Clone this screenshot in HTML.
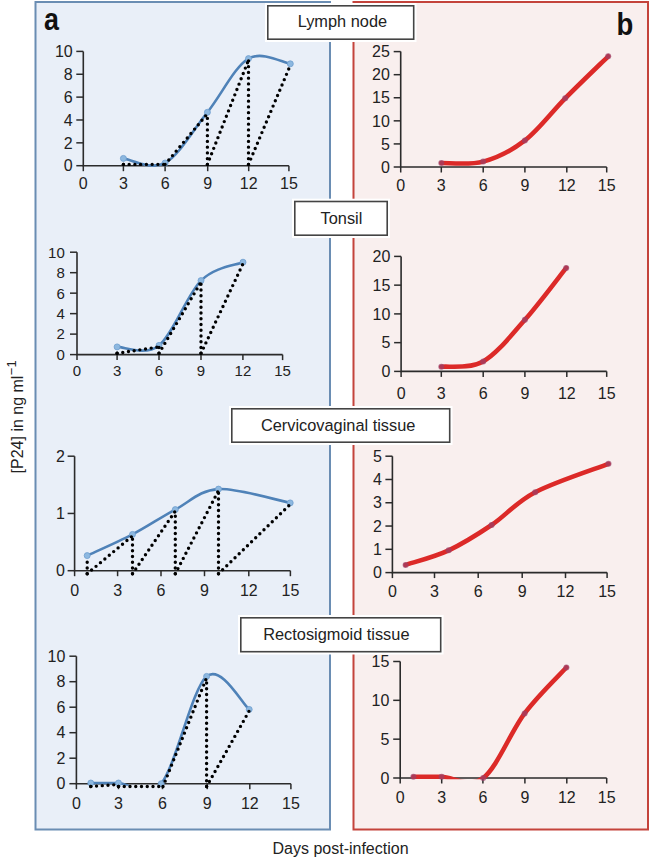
<!DOCTYPE html>
<html><head><meta charset="utf-8"><style>
html,body{margin:0;padding:0;background:#fff;width:650px;height:858px;overflow:hidden}
svg{display:block}
</style></head><body>
<svg width="650" height="858" viewBox="0 0 650 858" font-family='"Liberation Sans", sans-serif' font-size="16" fill="#222">
<defs><clipPath id="clip0"><rect x="83.3" y="31.4" width="225.59999999999997" height="136.29999999999998"/></clipPath><clipPath id="clip1"><rect x="77" y="232.2" width="225.60000000000002" height="124.40000000000003"/></clipPath><clipPath id="clip2"><rect x="74.6" y="436.2" width="235.79999999999998" height="136.50000000000006"/></clipPath><clipPath id="clip3"><rect x="76.4" y="636.2" width="234.49999999999997" height="149.5"/></clipPath><clipPath id="clip4"><rect x="400.7" y="31.6" width="226.00000000000006" height="136.6"/></clipPath><clipPath id="clip5"><rect x="401.1" y="236.39999999999998" width="225.60000000000002" height="136.2"/></clipPath><clipPath id="clip6"><rect x="392.4" y="436.2" width="234.70000000000005" height="137.60000000000002"/></clipPath><clipPath id="clip7"><rect x="400.2" y="641.5" width="226.50000000000006" height="137.7"/></clipPath></defs>
<rect x="0" y="0" width="650" height="858" fill="#fff"/>
<rect x="35.5" y="2" width="294.5" height="827.5" fill="#e9eff8" stroke="#6a8db3" stroke-width="2"/>
<rect x="353.5" y="2" width="294.5" height="827.5" fill="#f9efee" stroke="#c4433b" stroke-width="2"/>
<text x="44" y="30.3" font-size="32" font-weight="bold" fill="#111" transform="translate(44,0) scale(0.84,1) translate(-44,0)">a</text>
<text x="616.5" y="34.6" font-size="32" font-weight="bold" fill="#111" transform="translate(616.5,0) scale(0.86,1) translate(-616.5,0)">b</text>
<g><path d="M83.30,51.40 V165.70 H288.90" fill="none" stroke="#2b2b2b" stroke-width="1.6"/><path d="M76.30,165.70 H83.30" stroke="#2b2b2b" stroke-width="1.5"/><text x="72.70" y="171.40" text-anchor="end" font-size="16">0</text><path d="M76.30,142.84 H83.30" stroke="#2b2b2b" stroke-width="1.5"/><text x="72.70" y="148.54" text-anchor="end" font-size="16">2</text><path d="M76.30,119.98 H83.30" stroke="#2b2b2b" stroke-width="1.5"/><text x="72.70" y="125.68" text-anchor="end" font-size="16">4</text><path d="M76.30,97.12 H83.30" stroke="#2b2b2b" stroke-width="1.5"/><text x="72.70" y="102.82" text-anchor="end" font-size="16">6</text><path d="M76.30,74.26 H83.30" stroke="#2b2b2b" stroke-width="1.5"/><text x="72.70" y="79.96" text-anchor="end" font-size="16">8</text><path d="M76.30,51.40 H83.30" stroke="#2b2b2b" stroke-width="1.5"/><text x="72.70" y="57.10" text-anchor="end" font-size="16">10</text><path d="M83.30,165.70 V171.20" stroke="#2b2b2b" stroke-width="1.5"/><text x="83.30" y="188.70" text-anchor="middle" font-size="16">0</text><path d="M123.40,165.70 V171.20" stroke="#2b2b2b" stroke-width="1.5"/><text x="123.40" y="188.70" text-anchor="middle" font-size="16">3</text><path d="M165.10,165.70 V171.20" stroke="#2b2b2b" stroke-width="1.5"/><text x="165.10" y="188.70" text-anchor="middle" font-size="16">6</text><path d="M207.70,165.70 V171.20" stroke="#2b2b2b" stroke-width="1.5"/><text x="207.70" y="188.70" text-anchor="middle" font-size="16">9</text><path d="M248.70,165.70 V171.20" stroke="#2b2b2b" stroke-width="1.5"/><text x="248.70" y="188.70" text-anchor="middle" font-size="16">12</text><path d="M288.90,165.70 V171.20" stroke="#2b2b2b" stroke-width="1.5"/><text x="288.90" y="188.70" text-anchor="middle" font-size="16">15</text><path d="M123.40,158.40 C130.35,159.17 151.10,170.68 165.10,163.00 C179.10,155.32 193.50,129.70 207.40,112.30 C221.30,94.90 234.68,66.68 248.50,58.60 C262.32,50.52 283.33,62.93 290.30,63.80" fill="none" stroke="#4f82b8" stroke-width="2.6" stroke-linejoin="round" clip-path="url(#clip0)"/><circle cx="123.40" cy="158.40" r="3" fill="#8db8e0" stroke="#6d9dce" stroke-width="0.8"/><circle cx="165.10" cy="163.00" r="3" fill="#8db8e0" stroke="#6d9dce" stroke-width="0.8"/><circle cx="207.40" cy="112.30" r="3" fill="#8db8e0" stroke="#6d9dce" stroke-width="0.8"/><circle cx="248.50" cy="58.60" r="3" fill="#8db8e0" stroke="#6d9dce" stroke-width="0.8"/><circle cx="290.30" cy="63.80" r="3" fill="#8db8e0" stroke="#6d9dce" stroke-width="0.8"/><g fill="none" stroke="#000" stroke-width="3.4" stroke-linecap="round" stroke-dasharray="0 5.75"><path d="M123.40,164.40 L123.40,159.90"/><path d="M123.40,164.40 L165.10,164.40"/><path d="M165.10,164.40 L207.40,113.80"/><path d="M207.40,164.40 L207.40,113.80"/><path d="M207.40,164.40 L248.50,60.10"/><path d="M248.50,164.40 L248.50,60.10"/><path d="M248.50,164.40 L290.30,65.30"/></g></g><g><path d="M77.00,252.20 V354.60 H282.60" fill="none" stroke="#2b2b2b" stroke-width="1.6"/><path d="M70.00,354.60 H77.00" stroke="#2b2b2b" stroke-width="1.5"/><text x="64.80" y="359.94" text-anchor="end" font-size="15">0</text><path d="M70.00,334.12 H77.00" stroke="#2b2b2b" stroke-width="1.5"/><text x="64.80" y="339.46" text-anchor="end" font-size="15">2</text><path d="M70.00,313.64 H77.00" stroke="#2b2b2b" stroke-width="1.5"/><text x="64.80" y="318.98" text-anchor="end" font-size="15">4</text><path d="M70.00,293.16 H77.00" stroke="#2b2b2b" stroke-width="1.5"/><text x="64.80" y="298.50" text-anchor="end" font-size="15">6</text><path d="M70.00,272.68 H77.00" stroke="#2b2b2b" stroke-width="1.5"/><text x="64.80" y="278.02" text-anchor="end" font-size="15">8</text><path d="M70.00,252.20 H77.00" stroke="#2b2b2b" stroke-width="1.5"/><text x="64.80" y="257.54" text-anchor="end" font-size="15">10</text><path d="M77.00,354.60 V360.10" stroke="#2b2b2b" stroke-width="1.5"/><text x="77.00" y="375.94" text-anchor="middle" font-size="15">0</text><path d="M117.10,354.60 V360.10" stroke="#2b2b2b" stroke-width="1.5"/><text x="117.10" y="375.94" text-anchor="middle" font-size="15">3</text><path d="M159.00,354.60 V360.10" stroke="#2b2b2b" stroke-width="1.5"/><text x="159.00" y="375.94" text-anchor="middle" font-size="15">6</text><path d="M201.00,354.60 V360.10" stroke="#2b2b2b" stroke-width="1.5"/><text x="201.00" y="375.94" text-anchor="middle" font-size="15">9</text><path d="M242.90,354.60 V360.10" stroke="#2b2b2b" stroke-width="1.5"/><text x="242.90" y="375.94" text-anchor="middle" font-size="15">12</text><path d="M282.60,354.60 V360.10" stroke="#2b2b2b" stroke-width="1.5"/><text x="282.60" y="375.94" text-anchor="middle" font-size="15">15</text><path d="M117.10,346.90 C124.08,346.65 145.02,356.45 159.00,345.40 C172.98,334.35 187.00,294.47 201.00,280.60 C215.00,266.73 236.00,265.27 243.00,262.20" fill="none" stroke="#4f82b8" stroke-width="2.6" stroke-linejoin="round" clip-path="url(#clip1)"/><circle cx="117.10" cy="346.90" r="3" fill="#8db8e0" stroke="#6d9dce" stroke-width="0.8"/><circle cx="159.00" cy="345.40" r="3" fill="#8db8e0" stroke="#6d9dce" stroke-width="0.8"/><circle cx="201.00" cy="280.60" r="3" fill="#8db8e0" stroke="#6d9dce" stroke-width="0.8"/><circle cx="243.00" cy="262.20" r="3" fill="#8db8e0" stroke="#6d9dce" stroke-width="0.8"/><g fill="none" stroke="#000" stroke-width="3.4" stroke-linecap="round" stroke-dasharray="0 5.75"><path d="M117.10,353.30 L117.10,348.40"/><path d="M117.10,353.30 L159.00,346.90"/><path d="M159.00,353.30 L159.00,346.90"/><path d="M159.00,353.30 L201.00,282.10"/><path d="M201.00,353.30 L201.00,282.10"/><path d="M201.00,353.30 L243.00,263.70"/></g></g><g><path d="M74.60,456.20 V570.70 H290.40" fill="none" stroke="#2b2b2b" stroke-width="1.6"/><path d="M67.60,570.70 H74.60" stroke="#2b2b2b" stroke-width="1.5"/><text x="64.80" y="576.40" text-anchor="end" font-size="16">0</text><path d="M67.60,513.45 H74.60" stroke="#2b2b2b" stroke-width="1.5"/><text x="64.80" y="519.15" text-anchor="end" font-size="16">1</text><path d="M67.60,456.20 H74.60" stroke="#2b2b2b" stroke-width="1.5"/><text x="64.80" y="461.90" text-anchor="end" font-size="16">2</text><path d="M74.60,570.70 V576.20" stroke="#2b2b2b" stroke-width="1.5"/><text x="74.60" y="595.70" text-anchor="middle" font-size="16">0</text><path d="M117.60,570.70 V576.20" stroke="#2b2b2b" stroke-width="1.5"/><text x="117.60" y="595.70" text-anchor="middle" font-size="16">3</text><path d="M161.00,570.70 V576.20" stroke="#2b2b2b" stroke-width="1.5"/><text x="161.00" y="595.70" text-anchor="middle" font-size="16">6</text><path d="M204.50,570.70 V576.20" stroke="#2b2b2b" stroke-width="1.5"/><text x="204.50" y="595.70" text-anchor="middle" font-size="16">9</text><path d="M248.80,570.70 V576.20" stroke="#2b2b2b" stroke-width="1.5"/><text x="248.80" y="595.70" text-anchor="middle" font-size="16">12</text><path d="M290.40,570.70 V576.20" stroke="#2b2b2b" stroke-width="1.5"/><text x="290.40" y="595.70" text-anchor="middle" font-size="16">15</text><path d="M87.20,555.60 C94.75,552.07 117.82,542.07 132.50,534.40 C147.18,526.73 160.97,517.15 175.30,509.60 C189.63,502.05 199.35,490.22 218.50,489.10 C237.65,487.98 278.25,500.60 290.20,502.90" fill="none" stroke="#4f82b8" stroke-width="2.6" stroke-linejoin="round" clip-path="url(#clip2)"/><circle cx="87.20" cy="555.60" r="3" fill="#8db8e0" stroke="#6d9dce" stroke-width="0.8"/><circle cx="132.50" cy="534.40" r="3" fill="#8db8e0" stroke="#6d9dce" stroke-width="0.8"/><circle cx="175.30" cy="509.60" r="3" fill="#8db8e0" stroke="#6d9dce" stroke-width="0.8"/><circle cx="218.50" cy="489.10" r="3" fill="#8db8e0" stroke="#6d9dce" stroke-width="0.8"/><circle cx="290.20" cy="502.90" r="3" fill="#8db8e0" stroke="#6d9dce" stroke-width="0.8"/><g fill="none" stroke="#000" stroke-width="3.4" stroke-linecap="round" stroke-dasharray="0 5.75"><path d="M87.20,573.70 L87.20,557.10"/><path d="M87.20,573.70 L132.50,535.90"/><path d="M132.50,573.70 L132.50,535.90"/><path d="M132.50,573.70 L175.30,511.10"/><path d="M175.30,573.70 L175.30,511.10"/><path d="M175.30,573.70 L218.50,490.60"/><path d="M218.50,573.70 L218.50,490.60"/><path d="M218.50,573.70 L290.20,504.40"/></g></g><g><path d="M76.40,656.20 V783.70 H290.90" fill="none" stroke="#2b2b2b" stroke-width="1.6"/><path d="M69.40,783.70 H76.40" stroke="#2b2b2b" stroke-width="1.5"/><text x="65.30" y="789.40" text-anchor="end" font-size="16">0</text><path d="M69.40,758.20 H76.40" stroke="#2b2b2b" stroke-width="1.5"/><text x="65.30" y="763.90" text-anchor="end" font-size="16">2</text><path d="M69.40,732.70 H76.40" stroke="#2b2b2b" stroke-width="1.5"/><text x="65.30" y="738.40" text-anchor="end" font-size="16">4</text><path d="M69.40,707.20 H76.40" stroke="#2b2b2b" stroke-width="1.5"/><text x="65.30" y="712.90" text-anchor="end" font-size="16">6</text><path d="M69.40,681.70 H76.40" stroke="#2b2b2b" stroke-width="1.5"/><text x="65.30" y="687.40" text-anchor="end" font-size="16">8</text><path d="M69.40,656.20 H76.40" stroke="#2b2b2b" stroke-width="1.5"/><text x="65.30" y="661.90" text-anchor="end" font-size="16">10</text><path d="M76.40,783.70 V789.20" stroke="#2b2b2b" stroke-width="1.5"/><text x="76.40" y="808.60" text-anchor="middle" font-size="16">0</text><path d="M118.50,783.70 V789.20" stroke="#2b2b2b" stroke-width="1.5"/><text x="118.50" y="808.60" text-anchor="middle" font-size="16">3</text><path d="M162.50,783.70 V789.20" stroke="#2b2b2b" stroke-width="1.5"/><text x="162.50" y="808.60" text-anchor="middle" font-size="16">6</text><path d="M207.30,783.70 V789.20" stroke="#2b2b2b" stroke-width="1.5"/><text x="207.30" y="808.60" text-anchor="middle" font-size="16">9</text><path d="M249.80,783.70 V789.20" stroke="#2b2b2b" stroke-width="1.5"/><text x="249.80" y="808.60" text-anchor="middle" font-size="16">12</text><path d="M290.90,783.70 V789.20" stroke="#2b2b2b" stroke-width="1.5"/><text x="290.90" y="808.60" text-anchor="middle" font-size="16">15</text><path d="M90.80,783.00 C95.42,783.00 106.77,782.88 118.50,783.00 C130.23,783.12 146.52,801.47 161.20,783.70 C175.88,765.93 191.93,688.78 206.60,676.40 C221.27,664.02 242.10,703.90 249.20,709.40" fill="none" stroke="#4f82b8" stroke-width="2.6" stroke-linejoin="round" clip-path="url(#clip3)"/><circle cx="90.80" cy="783.00" r="3" fill="#8db8e0" stroke="#6d9dce" stroke-width="0.8"/><circle cx="118.50" cy="783.00" r="3" fill="#8db8e0" stroke="#6d9dce" stroke-width="0.8"/><circle cx="161.20" cy="783.70" r="3" fill="#8db8e0" stroke="#6d9dce" stroke-width="0.8"/><circle cx="206.60" cy="676.40" r="3" fill="#8db8e0" stroke="#6d9dce" stroke-width="0.8"/><circle cx="249.20" cy="709.40" r="3" fill="#8db8e0" stroke="#6d9dce" stroke-width="0.8"/><g fill="none" stroke="#000" stroke-width="3.4" stroke-linecap="round" stroke-dasharray="0 5.75"><path d="M90.80,786.50 L90.80,784.50"/><path d="M90.80,786.50 L118.50,784.50"/><path d="M118.50,786.50 L118.50,784.50"/><path d="M118.50,786.50 L161.20,786.50"/><path d="M163.00,786.50 L206.60,677.90"/><path d="M206.60,786.50 L206.60,677.90"/><path d="M206.60,786.50 L249.20,710.90"/></g></g><g><path d="M400.70,51.60 V167.00 H606.70" fill="none" stroke="#2b2b2b" stroke-width="1.6"/><path d="M393.70,167.00 H400.70" stroke="#2b2b2b" stroke-width="1.5"/><text x="389.90" y="172.70" text-anchor="end" font-size="16">0</text><path d="M393.70,143.92 H400.70" stroke="#2b2b2b" stroke-width="1.5"/><text x="389.90" y="149.62" text-anchor="end" font-size="16">5</text><path d="M393.70,120.84 H400.70" stroke="#2b2b2b" stroke-width="1.5"/><text x="389.90" y="126.54" text-anchor="end" font-size="16">10</text><path d="M393.70,97.76 H400.70" stroke="#2b2b2b" stroke-width="1.5"/><text x="389.90" y="103.46" text-anchor="end" font-size="16">15</text><path d="M393.70,74.68 H400.70" stroke="#2b2b2b" stroke-width="1.5"/><text x="389.90" y="80.38" text-anchor="end" font-size="16">20</text><path d="M393.70,51.60 H400.70" stroke="#2b2b2b" stroke-width="1.5"/><text x="389.90" y="57.30" text-anchor="end" font-size="16">25</text><path d="M400.70,167.00 V172.50" stroke="#2b2b2b" stroke-width="1.5"/><text x="400.70" y="191.20" text-anchor="middle" font-size="16">0</text><path d="M441.30,167.00 V172.50" stroke="#2b2b2b" stroke-width="1.5"/><text x="441.30" y="191.20" text-anchor="middle" font-size="16">3</text><path d="M483.20,167.00 V172.50" stroke="#2b2b2b" stroke-width="1.5"/><text x="483.20" y="191.20" text-anchor="middle" font-size="16">6</text><path d="M524.90,167.00 V172.50" stroke="#2b2b2b" stroke-width="1.5"/><text x="524.90" y="191.20" text-anchor="middle" font-size="16">9</text><path d="M566.80,167.00 V172.50" stroke="#2b2b2b" stroke-width="1.5"/><text x="566.80" y="191.20" text-anchor="middle" font-size="16">12</text><path d="M606.70,167.00 V172.50" stroke="#2b2b2b" stroke-width="1.5"/><text x="606.70" y="191.20" text-anchor="middle" font-size="16">15</text><path d="M441.30,163.00 C448.28,162.77 469.27,165.37 483.20,161.60 C497.13,157.83 511.23,150.95 524.90,140.40 C538.57,129.85 551.32,112.32 565.20,98.30 C579.08,84.28 601.03,63.30 608.20,56.30" fill="none" stroke="#dc2a28" stroke-width="4.6" stroke-linejoin="round" stroke-linecap="round" clip-path="url(#clip4)"/><circle cx="441.30" cy="163.00" r="3" fill="#9a4068" fill-opacity="0.7"/><circle cx="483.20" cy="161.60" r="3" fill="#9a4068" fill-opacity="0.7"/><circle cx="524.90" cy="140.40" r="3" fill="#9a4068" fill-opacity="0.7"/><circle cx="565.20" cy="98.30" r="3" fill="#9a4068" fill-opacity="0.7"/><circle cx="608.20" cy="56.30" r="3" fill="#9a4068" fill-opacity="0.7"/></g><g><path d="M401.10,256.40 V371.40 H606.70" fill="none" stroke="#2b2b2b" stroke-width="1.6"/><path d="M394.10,371.40 H401.10" stroke="#2b2b2b" stroke-width="1.5"/><text x="390.30" y="377.10" text-anchor="end" font-size="16">0</text><path d="M394.10,342.65 H401.10" stroke="#2b2b2b" stroke-width="1.5"/><text x="390.30" y="348.35" text-anchor="end" font-size="16">5</text><path d="M394.10,313.90 H401.10" stroke="#2b2b2b" stroke-width="1.5"/><text x="390.30" y="319.60" text-anchor="end" font-size="16">10</text><path d="M394.10,285.15 H401.10" stroke="#2b2b2b" stroke-width="1.5"/><text x="390.30" y="290.85" text-anchor="end" font-size="16">15</text><path d="M394.10,256.40 H401.10" stroke="#2b2b2b" stroke-width="1.5"/><text x="390.30" y="262.10" text-anchor="end" font-size="16">20</text><path d="M401.10,371.40 V376.90" stroke="#2b2b2b" stroke-width="1.5"/><text x="401.10" y="399.00" text-anchor="middle" font-size="16">0</text><path d="M441.30,371.40 V376.90" stroke="#2b2b2b" stroke-width="1.5"/><text x="441.30" y="399.00" text-anchor="middle" font-size="16">3</text><path d="M483.20,371.40 V376.90" stroke="#2b2b2b" stroke-width="1.5"/><text x="483.20" y="399.00" text-anchor="middle" font-size="16">6</text><path d="M524.90,371.40 V376.90" stroke="#2b2b2b" stroke-width="1.5"/><text x="524.90" y="399.00" text-anchor="middle" font-size="16">9</text><path d="M566.80,371.40 V376.90" stroke="#2b2b2b" stroke-width="1.5"/><text x="566.80" y="399.00" text-anchor="middle" font-size="16">12</text><path d="M606.70,371.40 V376.90" stroke="#2b2b2b" stroke-width="1.5"/><text x="606.70" y="399.00" text-anchor="middle" font-size="16">15</text><path d="M441.30,366.80 C448.28,365.90 469.27,369.23 483.20,361.40 C497.13,353.57 511.07,335.38 524.90,319.80 C538.73,304.22 559.32,276.55 566.20,267.90" fill="none" stroke="#dc2a28" stroke-width="4.6" stroke-linejoin="round" stroke-linecap="round" clip-path="url(#clip5)"/><circle cx="441.30" cy="366.80" r="3" fill="#9a4068" fill-opacity="0.7"/><circle cx="483.20" cy="361.40" r="3" fill="#9a4068" fill-opacity="0.7"/><circle cx="524.90" cy="319.80" r="3" fill="#9a4068" fill-opacity="0.7"/><circle cx="566.20" cy="267.90" r="3" fill="#9a4068" fill-opacity="0.7"/></g><g><path d="M392.40,456.20 V572.60 H607.10" fill="none" stroke="#2b2b2b" stroke-width="1.6"/><path d="M385.40,572.60 H392.40" stroke="#2b2b2b" stroke-width="1.5"/><text x="381.80" y="578.30" text-anchor="end" font-size="16">0</text><path d="M385.40,549.32 H392.40" stroke="#2b2b2b" stroke-width="1.5"/><text x="381.80" y="555.02" text-anchor="end" font-size="16">1</text><path d="M385.40,526.04 H392.40" stroke="#2b2b2b" stroke-width="1.5"/><text x="381.80" y="531.74" text-anchor="end" font-size="16">2</text><path d="M385.40,502.76 H392.40" stroke="#2b2b2b" stroke-width="1.5"/><text x="381.80" y="508.46" text-anchor="end" font-size="16">3</text><path d="M385.40,479.48 H392.40" stroke="#2b2b2b" stroke-width="1.5"/><text x="381.80" y="485.18" text-anchor="end" font-size="16">4</text><path d="M385.40,456.20 H392.40" stroke="#2b2b2b" stroke-width="1.5"/><text x="381.80" y="461.90" text-anchor="end" font-size="16">5</text><path d="M392.40,572.60 V578.10" stroke="#2b2b2b" stroke-width="1.5"/><text x="392.40" y="597.30" text-anchor="middle" font-size="16">0</text><path d="M434.50,572.60 V578.10" stroke="#2b2b2b" stroke-width="1.5"/><text x="434.50" y="597.30" text-anchor="middle" font-size="16">3</text><path d="M478.20,572.60 V578.10" stroke="#2b2b2b" stroke-width="1.5"/><text x="478.20" y="597.30" text-anchor="middle" font-size="16">6</text><path d="M522.20,572.60 V578.10" stroke="#2b2b2b" stroke-width="1.5"/><text x="522.20" y="597.30" text-anchor="middle" font-size="16">9</text><path d="M565.50,572.60 V578.10" stroke="#2b2b2b" stroke-width="1.5"/><text x="565.50" y="597.30" text-anchor="middle" font-size="16">12</text><path d="M607.10,572.60 V578.10" stroke="#2b2b2b" stroke-width="1.5"/><text x="607.10" y="597.30" text-anchor="middle" font-size="16">15</text><path d="M405.60,564.90 C412.78,562.47 434.37,556.95 448.70,550.30 C463.03,543.65 477.18,534.68 491.60,525.00 C506.02,515.32 515.72,502.40 535.20,492.20 C554.68,482.00 596.28,468.53 608.50,463.80" fill="none" stroke="#dc2a28" stroke-width="4.6" stroke-linejoin="round" stroke-linecap="round" clip-path="url(#clip6)"/><circle cx="405.60" cy="564.90" r="3" fill="#9a4068" fill-opacity="0.7"/><circle cx="448.70" cy="550.30" r="3" fill="#9a4068" fill-opacity="0.7"/><circle cx="491.60" cy="525.00" r="3" fill="#9a4068" fill-opacity="0.7"/><circle cx="535.20" cy="492.20" r="3" fill="#9a4068" fill-opacity="0.7"/><circle cx="608.50" cy="463.80" r="3" fill="#9a4068" fill-opacity="0.7"/></g><g><path d="M400.20,661.50 V778.00 H606.70" fill="none" stroke="#2b2b2b" stroke-width="1.6"/><path d="M393.20,778.00 H400.20" stroke="#2b2b2b" stroke-width="1.5"/><text x="389.40" y="783.70" text-anchor="end" font-size="16">0</text><path d="M393.20,739.17 H400.20" stroke="#2b2b2b" stroke-width="1.5"/><text x="389.40" y="744.86" text-anchor="end" font-size="16">5</text><path d="M393.20,700.33 H400.20" stroke="#2b2b2b" stroke-width="1.5"/><text x="389.40" y="706.03" text-anchor="end" font-size="16">10</text><path d="M393.20,661.50 H400.20" stroke="#2b2b2b" stroke-width="1.5"/><text x="389.40" y="667.20" text-anchor="end" font-size="16">15</text><path d="M400.20,778.00 V783.50" stroke="#2b2b2b" stroke-width="1.5"/><text x="400.20" y="802.70" text-anchor="middle" font-size="16">0</text><path d="M441.70,778.00 V783.50" stroke="#2b2b2b" stroke-width="1.5"/><text x="441.70" y="802.70" text-anchor="middle" font-size="16">3</text><path d="M482.90,778.00 V783.50" stroke="#2b2b2b" stroke-width="1.5"/><text x="482.90" y="802.70" text-anchor="middle" font-size="16">6</text><path d="M524.90,778.00 V783.50" stroke="#2b2b2b" stroke-width="1.5"/><text x="524.90" y="802.70" text-anchor="middle" font-size="16">9</text><path d="M566.80,778.00 V783.50" stroke="#2b2b2b" stroke-width="1.5"/><text x="566.80" y="802.70" text-anchor="middle" font-size="16">12</text><path d="M606.70,778.00 V783.50" stroke="#2b2b2b" stroke-width="1.5"/><text x="606.70" y="802.70" text-anchor="middle" font-size="16">15</text><path d="M413.40,776.80 C418.10,776.80 429.97,776.60 441.60,776.80 C453.23,777.00 469.37,788.57 483.20,778.00 C497.03,767.43 510.73,731.82 524.60,713.40 C538.47,694.98 559.43,675.15 566.40,667.50" fill="none" stroke="#dc2a28" stroke-width="4.6" stroke-linejoin="round" stroke-linecap="round" clip-path="url(#clip7)"/><circle cx="413.40" cy="776.80" r="3" fill="#9a4068" fill-opacity="0.7"/><circle cx="441.60" cy="776.80" r="3" fill="#9a4068" fill-opacity="0.7"/><circle cx="483.20" cy="778.00" r="3" fill="#9a4068" fill-opacity="0.7"/><circle cx="524.60" cy="713.40" r="3" fill="#9a4068" fill-opacity="0.7"/><circle cx="566.40" cy="667.50" r="3" fill="#9a4068" fill-opacity="0.7"/></g>
<rect x="265" y="3" width="151.5" height="39" fill="#fff" stroke="none"/><rect x="267.8" y="5.8" width="145.9" height="33.4" fill="#fff" stroke="#444" stroke-width="1.6"/><text x="342.40" y="26.70" text-anchor="middle" font-size="16.35">Lymph node</text><rect x="292" y="198.7" width="98" height="39.30000000000001" fill="#fff" stroke="none"/><rect x="294.8" y="201.5" width="92.4" height="33.70000000000001" fill="#fff" stroke="#444" stroke-width="1.6"/><text x="341.50" y="223.80" text-anchor="middle" font-size="16.35">Tonsil</text><rect x="229" y="406" width="223.5" height="39" fill="#fff" stroke="none"/><rect x="231.8" y="408.8" width="217.9" height="33.4" fill="#fff" stroke="#444" stroke-width="1.6"/><text x="338.15" y="430.60" text-anchor="middle" font-size="16.35">Cervicovaginal tissue</text><rect x="238" y="615" width="205.5" height="39.5" fill="#fff" stroke="none"/><rect x="240.8" y="617.8" width="199.9" height="33.9" fill="#fff" stroke="#444" stroke-width="1.6"/><text x="336.35" y="639.80" text-anchor="middle" font-size="16.35">Rectosigmoid tissue</text>
<text transform="translate(23.2,473.4) rotate(-90)" font-size="16">[P24] in ng ml<tspan font-size="13" dy="-7.6" dx="0.4">−1</tspan></text>
<text x="272.5" y="853.5" font-size="16">Days post-infection</text>
</svg>
</body></html>
